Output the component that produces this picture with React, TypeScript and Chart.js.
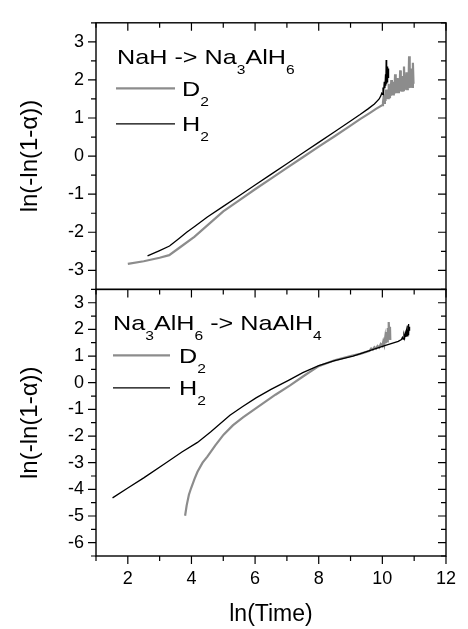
import { useEffect, useRef } from 'react';
import { Chart, registerables } from 'chart.js';

Chart.register(...registerables);

const FONT = '"Liberation Sans", Arial, Helvetica, sans-serif';

// Axes
const X_MIN = 1;
const X_MAX = 12;
const xTickLabels = [2, 4, 6, 8, 10, 12];
const topYMin = -3.5;
const topYMax = 3.5;
const botYMin = -6.5;
const botYMax = 3.5;
const topYTickLabels = [-3, -2, -1, 0, 1, 2, 3];
const botYTickLabels = [-6, -5, -4, -3, -2, -1, 0, 1, 2, 3];
const yTitle = 'ln(-ln(1-α))';
const xTitle = 'ln(Time)';

// Legend text (main text / subscript parts)
const topTitleParts = [
  { t: 'NaH -> Na', sub: false },
  { t: '3', sub: true },
  { t: 'AlH', sub: false },
  { t: '6', sub: true },
];
const botTitleParts = [
  { t: 'Na', sub: false },
  { t: '3', sub: true },
  { t: 'AlH', sub: false },
  { t: '6', sub: true },
  { t: ' -> NaAlH', sub: false },
  { t: '4', sub: true },
];
const seriesNames = ['D', 'H'];
const seriesSubs = ['2', '2'];

// Top panel: NaH -> Na3AlH6
const topD2X = [
  2.0, 2.5, 3.0, 3.3, 3.6, 4.09, 4.5, 5.0, 5.5, 6.0, 6.5, 7.0, 7.5, 8.0, 8.5, 9.0, 9.3, 9.6, 9.8, 10.0,
  10.02, 10.04, 10.06, 10.08, 10.1, 10.12, 10.14, 10.16, 10.18, 10.2, 10.22, 10.24, 10.26, 10.28, 10.3,
  10.32, 10.34, 10.36, 10.38, 10.4, 10.42, 10.44, 10.46, 10.48, 10.5, 10.52, 10.54, 10.56, 10.58, 10.6,
  10.62, 10.64, 10.66, 10.68, 10.7, 10.72, 10.74, 10.76, 10.78, 10.8, 10.82, 10.84, 10.86, 10.88, 10.9,
  10.92, 10.94, 10.96, 10.98,
];
const topD2Y = [
  -2.83, -2.76, -2.67, -2.6, -2.42, -2.12, -1.82, -1.45, -1.16, -0.87, -0.59, -0.31, -0.03, 0.25, 0.52, 0.8, 0.97, 1.13, 1.24, 1.34,
  1.42, 1.55, 1.4, 1.62, 1.45, 1.75, 1.5, 1.68, 1.52, 1.9, 1.55, 1.72, 1.58, 2.0, 1.6,
  1.8, 1.62, 1.95, 1.64, 2.15, 1.66, 1.85, 1.65, 2.05, 1.68, 1.9, 1.7, 2.25, 1.7, 1.92,
  1.72, 2.1, 1.73, 2.35, 1.74, 1.95, 1.75, 2.2, 1.76, 2.0, 1.78, 2.62, 1.79, 2.1, 1.8,
  2.3, 1.82, 2.45, 1.9,
];
const topH2X = [
  2.62, 3.0, 3.31, 3.6, 3.85, 4.1, 4.5, 5.0, 5.5, 6.0, 6.5, 7.0, 7.5, 8.0, 8.5, 9.0, 9.3, 9.55, 9.75, 9.9,
  9.95, 9.98, 10.0, 10.02, 10.04, 10.06, 10.08, 10.1, 10.11, 10.12, 10.13, 10.14, 10.15, 10.16, 10.17,
  10.18, 10.19, 10.2,
];
const topH2Y = [
  -2.62, -2.48, -2.36, -2.17, -2.0, -1.85, -1.6, -1.32, -1.04, -0.76, -0.48, -0.2, 0.08, 0.36, 0.64, 0.92, 1.09, 1.24, 1.37, 1.5,
  1.58, 1.65, 1.62, 1.8, 1.7, 1.95, 1.78, 2.15, 1.85, 2.52, 1.9, 2.25, 1.95, 2.35, 2.0,
  2.3, 2.05, 2.3,
];

// Bottom panel: Na3AlH6 -> NaAlH4
const botD2X = [
  3.8, 3.85, 3.92, 3.99, 4.1, 4.19, 4.35, 4.5, 4.75, 5.01, 5.3, 5.62, 6.0, 6.64, 7.1, 7.55, 8.0, 8.5, 9.0, 9.3, 9.6,
  9.65, 9.7, 9.75, 9.8, 9.85, 9.9, 9.95, 10.0, 10.03, 10.06, 10.09, 10.11, 10.13, 10.15, 10.17, 10.19,
  10.2, 10.22, 10.24, 10.25,
];
const botD2Y = [
  -4.99, -4.6, -4.2, -3.95, -3.6, -3.34, -3.0, -2.77, -2.35, -1.95, -1.6, -1.3, -0.98, -0.45, -0.1, 0.27, 0.62, 0.84, 1.0, 1.08, 1.2,
  1.28, 1.24, 1.33, 1.28, 1.38, 1.32, 1.45, 1.38, 1.55, 1.42, 1.7, 1.48, 1.9, 1.55, 2.05, 1.65,
  2.28, 1.75, 2.1, 1.6,
];
const botH2X = [
  1.52, 2.0, 2.5, 3.17, 3.7, 4.19, 4.6, 5.21, 5.6, 6.03, 6.5, 7.05, 7.5, 8.0, 8.5, 9.08, 9.6, 10.1, 10.5,
  10.6, 10.63, 10.65, 10.68, 10.7, 10.72, 10.74, 10.76, 10.78, 10.8, 10.81, 10.82, 10.83, 10.84, 10.85, 10.86,
];
const botH2Y = [
  -4.32, -3.95, -3.57, -3.03, -2.6, -2.24, -1.85, -1.22, -0.9, -0.57, -0.25, 0.09, 0.38, 0.64, 0.83, 1.0, 1.2, 1.4, 1.55,
  1.62, 1.7, 1.64, 1.78, 1.68, 1.85, 1.72, 1.95, 1.76, 2.15, 1.8, 2.2, 1.85, 2.1, 1.95, 2.05,
];

const GRAY = '#8c8c8c';
const BLACK = '#000000';

function zip(xs: number[], ys: number[]) {
  return xs.map((x, i) => ({ x, y: ys[i] }));
}

type Part = { t: string; sub: boolean };

function drawRich(ctx: CanvasRenderingContext2D, x: number, y: number, parts: Part[]) {
  const sx = 1.2;
  ctx.save();
  ctx.translate(x, y);
  ctx.scale(sx, 1);
  ctx.fillStyle = '#000';
  ctx.textBaseline = 'alphabetic';
  ctx.textAlign = 'left';
  let cx = 0;
  for (const p of parts) {
    ctx.font = p.sub ? `13px ${FONT}` : `21px ${FONT}`;
    ctx.fillText(p.t, cx, p.sub ? 10 : 0);
    cx += ctx.measureText(p.t).width;
  }
  ctx.restore();
}

const framePlugin = {
  id: 'frameTicksLegend',
  afterDraw(chart: any) {
    const { ctx, chartArea, scales } = chart;
    const xs = scales.x;
    const yT = scales.yTop;
    const yB = scales.yBot;
    const left = chartArea.left;
    const right = chartArea.right;
    ctx.save();
    ctx.strokeStyle = '#000';
    ctx.lineWidth = 1.4;
    ctx.strokeRect(left, yT.top, right - left, yT.bottom - yT.top);
    ctx.strokeRect(left, yB.top, right - left, yB.bottom - yB.top);
    ctx.lineWidth = 1.2;
    ctx.beginPath();
    for (const tk of xs.ticks) {
      const v = tk.value;
      const px = xs.getPixelForValue(v);
      const len = xTickLabels.includes(v) ? 8 : 5;
      ctx.moveTo(px, yB.bottom);
      ctx.lineTo(px, yB.bottom + len);
      ctx.moveTo(px, yT.bottom);
      ctx.lineTo(px, yT.bottom + len);
      ctx.moveTo(px, yT.top);
      ctx.lineTo(px, yT.top + len);
    }
    for (const [sc, labels] of [[yT, topYTickLabels], [yB, botYTickLabels]] as any) {
      for (const tk of sc.ticks) {
        const v = tk.value;
        const py = sc.getPixelForValue(v);
        const len = labels.includes(v) ? 8 : 5;
        ctx.moveTo(left - len, py);
        ctx.lineTo(left, py);
        ctx.moveTo(right - len, py);
        ctx.lineTo(right, py);
      }
    }
    ctx.stroke();

    // Legends
    const legend = (top: number, tx: number, titleParts: Part[], lx0: number, lx1: number, txt: number, dY: number, hY: number, titleOff: number) => {
      drawRich(ctx, tx, top + titleOff, titleParts);
      const rows = [
        { y: top + dY, color: GRAY, w: 2.2 },
        { y: top + hY, color: BLACK, w: 1.2 },
      ];
      rows.forEach((r, i) => {
        ctx.strokeStyle = r.color;
        ctx.lineWidth = r.w;
        ctx.beginPath();
        ctx.moveTo(lx0, r.y);
        ctx.lineTo(lx1, r.y);
        ctx.stroke();
        drawRich(ctx, txt, r.y + 7.5, [
          { t: seriesNames[i], sub: false },
          { t: seriesSubs[i], sub: true },
        ]);
      });
    };
    legend(yT.top, 117, topTitleParts, 116, 175, 182, 65.5, 101, 41);
    legend(yB.top, 113, botTitleParts, 113, 170, 179, 66, 98.5, 41);
    ctx.restore();
  },
};

function yScale(min: number, max: number, labels: number[], weight: number) {
  return {
    type: 'linear',
    position: 'left',
    stack: 'panels',
    stackWeight: 1,
    weight,
    min,
    max,
    grid: { display: false, drawTicks: false },
    border: { display: false },
    ticks: {
      stepSize: 0.5,
      autoSkip: false,
      padding: 12,
      color: '#000',
      font: { family: FONT, size: 18 },
      callback: (v: number) => (labels.includes(v) ? String(v) : ''),
    },
    title: {
      display: true,
      text: yTitle,
      color: '#000',
      font: { family: FONT, size: 24 },
      padding: { top: 16, bottom: 0 },
    },
    afterFit: (s: any) => {
      s.width = 96;
    },
  };
}

export default function App() {
  const ref = useRef<HTMLCanvasElement | null>(null);
  useEffect(() => {
    document.body.style.margin = '0';
    const canvas = ref.current!;
    const chart = new Chart(canvas, {
      type: 'line',
      data: {
        datasets: [
          { label: 'H2 top', data: zip(topH2X, topH2Y), xAxisID: 'x', yAxisID: 'yTop', borderColor: BLACK, borderWidth: 1.3, pointRadius: 0, tension: 0, fill: false },
          { label: 'H2 bottom', data: zip(botH2X, botH2Y), xAxisID: 'x', yAxisID: 'yBot', borderColor: BLACK, borderWidth: 1.3, pointRadius: 0, tension: 0, fill: false },
          { label: 'D2 top', data: zip(topD2X, topD2Y), xAxisID: 'x', yAxisID: 'yTop', borderColor: GRAY, borderWidth: 2.2, pointRadius: 0, tension: 0, fill: false },
          { label: 'D2 bottom', data: zip(botD2X, botD2Y), xAxisID: 'x', yAxisID: 'yBot', borderColor: GRAY, borderWidth: 2.2, pointRadius: 0, tension: 0, fill: false },
        ],
      },
      options: {
        animation: false,
        responsive: false,
        devicePixelRatio: 1,
        layout: { padding: { top: 12, right: 13, left: 0, bottom: 0 } },
        plugins: { legend: { display: false }, tooltip: { enabled: false } },
        scales: {
          x: {
            type: 'linear',
            position: 'bottom',
            min: X_MIN,
            max: X_MAX,
            grid: { display: false, drawTicks: false },
            border: { display: false },
            ticks: {
              stepSize: 1,
              autoSkip: false,
              maxRotation: 0,
              padding: 12,
              color: '#000',
              font: { family: FONT, size: 18 },
              callback: (v: number) => (xTickLabels.includes(v) ? String(v) : ''),
            },
            title: {
              display: true,
              text: xTitle,
              color: '#000',
              font: { family: FONT, size: 23 },
              padding: { top: 0, bottom: 1 },
            },
            afterFit: (s: any) => {
              s.height = 73;
            },
          },
          yBot: yScale(botYMin, botYMax, botYTickLabels, 0),
          yTop: yScale(topYMin, topYMax, topYTickLabels, 1),
        } as any,
      },
      plugins: [framePlugin],
    } as any);
    return () => chart.destroy();
  }, []);
  return <canvas ref={ref} width={468} height={629} style={{ display: 'block', width: 468, height: 629 }} />;
}
